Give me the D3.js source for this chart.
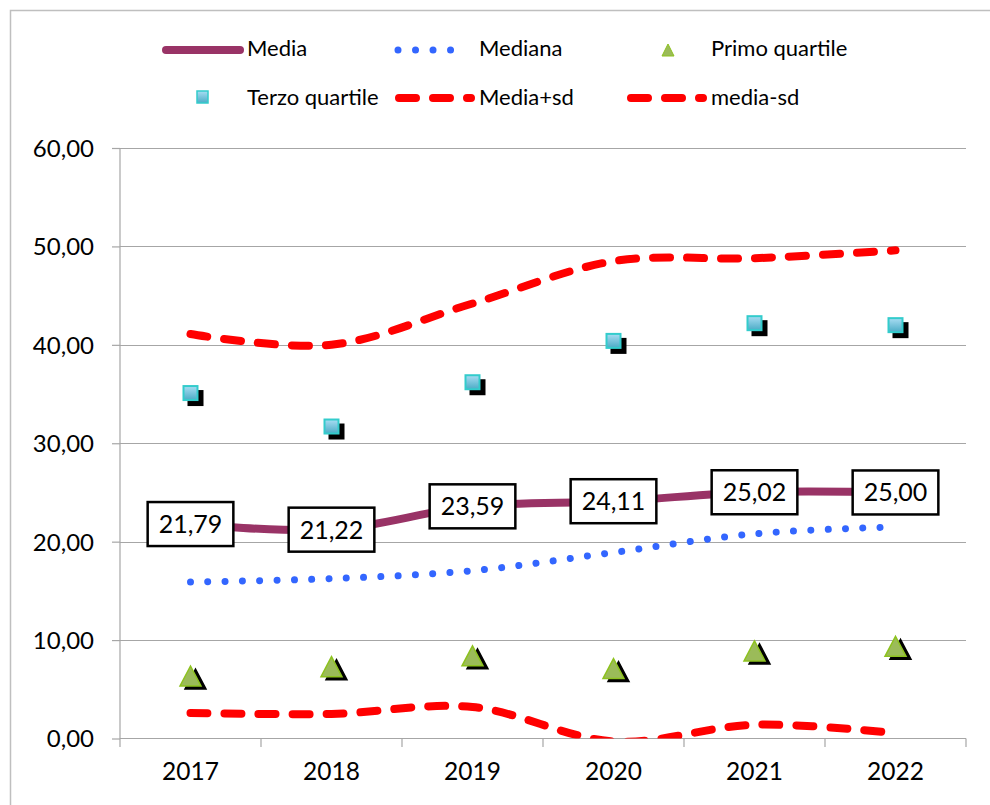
<!DOCTYPE html>
<html><head><meta charset="utf-8">
<script src="https://cdn.jsdelivr.net/npm/d3@7"></script>
<style>body{margin:0;background:#fff}svg{display:block;font-family:Lato,"Open Sans",sans-serif}</style>
</head><body><svg id="c" width="990" height="805"></svg>
<script>
const years = ["2017","2018","2019","2020","2021","2022"];
const media = [21.79, 21.22, 23.59, 24.11, 25.02, 25.00];
const mediana = [15.9, 16.25, 17.05, 18.9, 20.8, 21.5];
const primoQuartile = [6.35, 7.3, 8.4, 7.1, 8.9, 9.37];
const terzoQuartile = [35.1, 31.7, 36.2, 40.4, 42.2, 42.0];
const mediaPlusSd = [41.1, 40.0, 44.2, 48.5, 48.8, 49.6];
const mediaMinusSd = [2.6, 2.5, 3.2, -0.3, 1.4, 0.55];
const yTicks = [0,10,20,30,40,50,60];
const fmt = v => v.toFixed(2).replace(".", ",");

const svg = d3.select("#c");
const L = 120, R = 966, T = 148, B = 738.5;
const x = d3.scaleBand().domain(years).range([L, R]);
const cx = d => x(d) + x.bandwidth()/2;
const y = d3.scaleLinear().domain([0,60]).range([B, T]);

// outer border
svg.append("rect").attr("x",10.5).attr("y",10.5).attr("width",1000).attr("height",1000)
  .attr("fill","none").attr("stroke","#BFBFBF").attr("stroke-width",1.5);

const defs = svg.append("defs");
defs.append("clipPath").attr("id","plot").append("rect").attr("x",L).attr("y",T-20).attr("width",R-L).attr("height",B-T+20);
const g1 = defs.append("linearGradient").attr("id","sq").attr("x1",0).attr("y1",0).attr("x2",0).attr("y2",1);
g1.append("stop").attr("offset","0").attr("stop-color","#A9DDF3");
g1.append("stop").attr("offset","1").attr("stop-color","#4BACC6");

// gridlines
svg.append("g").selectAll("line").data(yTicks.filter(v=>v>0)).join("line")
  .attr("x1",L).attr("x2",R).attr("y1",d=>Math.round(y(d))+0.5).attr("y2",d=>Math.round(y(d))+0.5)
  .attr("stroke","#A6A6A6").attr("stroke-width",1.2);

// y axis
const ya = svg.append("g").attr("transform",`translate(${L},0)`)
  .call(d3.axisLeft(y).tickValues(yTicks).tickFormat(fmt).tickSize(8).tickPadding(18));
ya.select(".domain").remove();
ya.selectAll(".tick line").attr("stroke","#A6A6A6").attr("stroke-width",1.2);
ya.selectAll(".tick text").attr("font-size",24).attr("fill","#000").attr("font-family","Lato").attr("dy","0.35em");
svg.append("line").attr("x1",L).attr("x2",L).attr("y1",T).attr("y2",B+8.5).attr("stroke","#A6A6A6").attr("stroke-width",1.2);

// x axis
const xa = svg.append("g").attr("transform",`translate(0,${B})`)
  .call(d3.axisBottom(x).tickSize(0).tickPadding(24));
xa.select(".domain").attr("stroke","#A6A6A6").attr("stroke-width",1.2).attr("d",`M${L},0H${R}`);
xa.selectAll(".tick text").attr("font-size",24.5).attr("fill","#000").attr("font-family","Lato");
svg.append("g").selectAll("line").data(years.slice(1).concat(["end"])).join("line")
  .attr("x1",d=>d==="end"?R:x(d)).attr("x2",d=>d==="end"?R:x(d))
  .attr("y1",B).attr("y2",B+8.5).attr("stroke","#A6A6A6").attr("stroke-width",1.2);

const curve = d3.curveCatmullRom.alpha(0);
const lineGen = d3.line().x((d,i)=>cx(years[i])).y(d=>y(d)).curve(curve);
const plot = svg.append("g").attr("clip-path","url(#plot)");

const dashRed = {stroke:"#FF0000", width:8, dash:"17,17", cap:"round"};
const dotBlue = {stroke:"#3366FF", width:7, dash:"0.01,17.3", cap:"round"};
const solidMedia = {stroke:"#993366", width:8, dash:null, cap:"butt"};

function drawLine(data, st){
  plot.append("path").datum(data).attr("d",lineGen).attr("fill","none")
    .attr("stroke",st.stroke).attr("stroke-width",st.width)
    .attr("stroke-dasharray",st.dash).attr("stroke-linecap",st.cap).attr("stroke-linejoin","round");
}
drawLine(mediaPlusSd, dashRed);
drawLine(mediaMinusSd, dashRed);
drawLine(mediana, dotBlue);
drawLine(media, solidMedia);

// markers
const triPath = (w,h)=>`M0,${-h/2}L${w/2},${h/2}L${-w/2},${h/2}Z`;
function tri(gp, px, py, shadow){
  gp.append("path").attr("d",triPath(21,20)).attr("transform",`translate(${px+(shadow?5:0)},${py+(shadow?3:0)})`)
    .attr("fill",shadow?"#000":"#9BBB59").attr("stroke",shadow?"#000":"#8DC21F").attr("stroke-width",1.5);
}
function sq(gp, px, py, shadow){
  const s=14;
  gp.append("rect").attr("x",px-s/2+(shadow?5:0)).attr("y",py-s/2+(shadow?5:0)).attr("width",s).attr("height",s)
    .attr("fill",shadow?"#000":"url(#sq)").attr("stroke",shadow?"#000":"#33CCCC").attr("stroke-width",2);
}
const mk = svg.append("g");
primoQuartile.forEach((v,i)=>{tri(mk,cx(years[i]),y(v),true);tri(mk,cx(years[i]),y(v),false);});
terzoQuartile.forEach((v,i)=>{sq(mk,cx(years[i]),y(v),true);sq(mk,cx(years[i]),y(v),false);});

// data labels
const lab = svg.append("g");
media.forEach((v,i)=>{
  const gx = lab.append("g").attr("transform",`translate(${cx(years[i])},${y(v)})`);
  const r = gx.append("rect");
  const t = gx.append("text").attr("text-anchor","middle").attr("dy","0.36em").attr("font-size",25).attr("fill","#000").text(fmt(v));
  const w = t.node().getComputedTextLength()+22;
  r.attr("x",-w/2).attr("y",-22).attr("width",w).attr("height",44).attr("fill","#fff").attr("stroke","#000").attr("stroke-width",2.5);
});

// legend
const lg = svg.append("g").attr("font-size",22).attr("fill","#000");
function legText(tx, ty, s){ lg.append("text").attr("x",tx).attr("y",ty).attr("dy","0.35em").text(s); }
function legLine(x1,x2,yy,st){
  lg.append("line").attr("x1",x1).attr("x2",x2).attr("y1",yy).attr("y2",yy)
    .attr("stroke",st.stroke).attr("stroke-width",st.width).attr("stroke-dasharray",st.dash).attr("stroke-linecap","round");
}
const r1 = 48, r2 = 97;
legLine(166,240,r1+2,{stroke:"#993366",width:8,dash:null});
legText(247,r1,"Media");
legLine(398,468,r1+2,{stroke:"#3366FF",width:7,dash:"0.01,17.5"});
legText(479,r1,"Mediana");
lg.append("path").attr("d",triPath(12,12)).attr("transform",`translate(668,${r1+2})`).attr("fill","#9BBB59").attr("stroke","#8DC21F").attr("stroke-width",1);
legText(711,r1,"Primo quartile");
lg.append("rect").attr("x",197).attr("y",r2-6).attr("width",11).attr("height",12).attr("fill","url(#sq)").attr("stroke","#33CCCC").attr("stroke-width",1.5);
legText(247,r2,"Terzo quartile");
legLine(399,471,r2+1,{stroke:"#FF0000",width:8,dash:"17,17"});
legText(479,r2,"Media+sd");
legLine(631,703,r2+1,{stroke:"#FF0000",width:8,dash:"17,17"});
legText(711,r2,"media-sd");
</script></body></html>
